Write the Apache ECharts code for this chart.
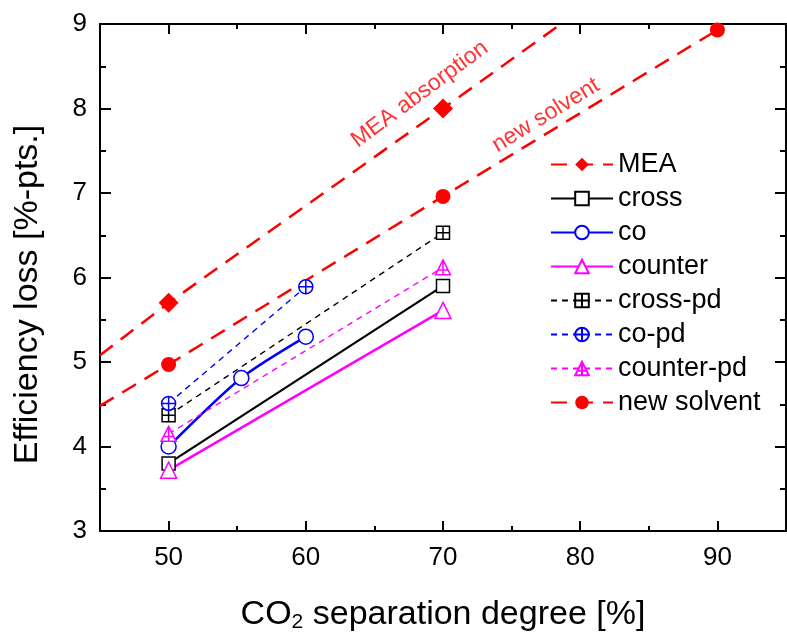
<!DOCTYPE html>
<html>
<head>
<meta charset="utf-8">
<script src="https://cdn.jsdelivr.net/npm/echarts@6/dist/echarts.min.js"></script>
<style>
html,body{margin:0;padding:0;background:#fff;}
#chart{width:787px;height:635px;}
</style>
</head>
<body>
<div id="chart"></div>
<script>
// ---- data ----
const xMajorTicks = [50, 60, 70, 80, 90];
const xMinorTicks = [55, 65, 75, 85];
const meaPoints = [[50, 5.70], [70, 8.00]];
const meaLineEnds = [[45, 5.08], [78.6, 9.0]];
const newSolventPoints = [[50, 4.97], [70, 6.96], [90, 8.93]];
const newSolventLineStart = [45, 4.48];
const cross = [[50, 3.80], [70, 5.90]];
const co = [[50, 4.00], [55.3, 4.81], [60, 5.30]];
const counter = [[50, 3.72], [70, 5.61]];
const crossPd = [[50, 4.37], [70, 6.53]];
const coPd = [[50, 4.51], [60, 5.89]];
const counterPd = [[50, 4.15], [70, 6.12]];
const annotationTexts = ['MEA absorption', 'new solvent'];
const annotationPos = [[68.3, 8.17], [77.5, 7.92]];
const annotationAngles = [36.5, 31.5];
const legendNames = ['MEA', 'cross', 'co', 'counter', 'cross-pd', 'co-pd', 'counter-pd', 'new solvent'];

const FONT = '"Liberation Sans", Arial, sans-serif';
const RED = '#ff0000', BLUE = '#0000ff', MAG = '#ff00ff', BLK = '#000000';
const boxPlus = 'path://M0,0H10V10H0Z M5,0V10 M0,5H10';
const circlePlus = 'path://M5,0A5,5,0,1,1,5,10A5,5,0,1,1,5,0Z M5,0V10 M0,5H10';
const triPlus = 'path://M5,0L10,10L0,10Z M5,0V10 M1.7,6.7H8.3';

function withEnds(start, pts, end) {
  const d = [];
  if (start) d.push({ value: start, symbol: 'none' });
  pts.forEach(p => d.push(p));
  if (end) d.push({ value: end, symbol: 'none' });
  return d;
}

function openSeries(name, data, color, symbol, size, lineType, lineWidth, smooth) {
  return {
    name: name, type: 'line', data: data, symbol: symbol, symbolSize: size,
    smooth: smooth || false,
    lineStyle: { color: color, width: lineWidth, type: lineType },
    itemStyle: { color: '#ffffff', borderColor: color, borderWidth: 1.5 },
    z: 3
  };
}

const chart = echarts.init(document.getElementById('chart'), null, { renderer: 'canvas' });

const axisLine = { show: true, onZero: false, lineStyle: { color: BLK, width: 2 } };

const option = {
  backgroundColor: '#ffffff',
  animation: false,
  grid: { left: 100, right: 1, top: 24, bottom: 104, outerBoundsMode: 'none' },
  legend: {
    orient: 'vertical', left: 550, top: 151, padding: 0,
    itemWidth: 62, itemHeight: 17, itemGap: 7,
    textStyle: { fontFamily: FONT, fontSize: 27, color: BLK, lineHeight: 24 },
    data: legendNames
  },
  xAxis: [
    {
      type: 'value', position: 'bottom', min: 45, max: 95,
      axisLine: axisLine,
      axisTick: { show: true, inside: true, length: 10, customValues: xMajorTicks, lineStyle: { color: BLK, width: 2 } },
      axisLabel: { show: true, customValues: xMajorTicks, margin: 14, fontFamily: FONT, fontSize: 26, color: BLK },
      splitLine: { show: false },
      name: '{a|CO}{s|2}{a| separation degree [%]}',
      nameLocation: 'middle', nameGap: 50,
      nameTextStyle: {
        color: BLK, fontFamily: FONT,
        rich: {
          a: { fontFamily: FONT, fontSize: 34, lineHeight: 36, color: BLK, verticalAlign: 'middle' },
          s: { fontFamily: FONT, fontSize: 21, lineHeight: 22, color: BLK, verticalAlign: 'bottom', padding: [36, 0, 0, 0] }
        }
      }
    },
    {
      type: 'value', position: 'bottom', min: 45, max: 95,
      axisLine: { show: false },
      axisTick: { show: true, inside: true, length: 5, customValues: xMinorTicks, lineStyle: { color: BLK, width: 2 } },
      axisLabel: { show: false }, splitLine: { show: false }
    },
    {
      type: 'value', position: 'top', min: 45, max: 95,
      axisLine: axisLine,
      axisTick: { show: true, inside: true, length: 10, customValues: xMajorTicks, lineStyle: { color: BLK, width: 2 } },
      axisLabel: { show: false }, splitLine: { show: false }
    },
    {
      type: 'value', position: 'top', min: 45, max: 95,
      axisLine: { show: false },
      axisTick: { show: true, inside: true, length: 5, customValues: xMinorTicks, lineStyle: { color: BLK, width: 2 } },
      axisLabel: { show: false }, splitLine: { show: false }
    }
  ],
  yAxis: [
    {
      type: 'value', position: 'left', min: 3, max: 9, interval: 1,
      axisLine: axisLine,
      axisTick: { show: true, inside: true, length: 11, lineStyle: { color: BLK, width: 2 } },
      minorTick: { show: true, splitNumber: 2, length: 6, lineStyle: { color: BLK, width: 2 } },
      axisLabel: { show: true, margin: 13, fontFamily: FONT, fontSize: 26, color: BLK },
      splitLine: { show: false }, minorSplitLine: { show: false },
      name: 'Efficiency loss [%-pts.]', nameLocation: 'middle', nameGap: 55, nameRotate: 90,
      nameTextStyle: { fontFamily: FONT, fontSize: 34, color: BLK, padding: [0, 34, 0, 0] }
    },
    {
      type: 'value', position: 'right', min: 3, max: 9, interval: 1,
      axisLine: axisLine,
      axisTick: { show: true, inside: true, length: 11, lineStyle: { color: BLK, width: 2 } },
      minorTick: { show: true, splitNumber: 2, length: 6, lineStyle: { color: BLK, width: 2 } },
      axisLabel: { show: false },
      splitLine: { show: false }, minorSplitLine: { show: false }
    }
  ],
  series: [
    {
      name: 'MEA', type: 'line', data: withEnds(meaLineEnds[0], meaPoints, meaLineEnds[1]),
      symbol: 'diamond', symbolSize: 20,
      lineStyle: { color: RED, width: 2.5, type: [16, 10] },
      itemStyle: { color: RED }, z: 2
    },
    openSeries('cross', cross, BLK, 'rect', 13, 'solid', 2.2),
    openSeries('co', co, BLUE, 'circle', 15, 'solid', 2.5, 0.25),
    openSeries('counter', counter, MAG, 'triangle', 16, 'solid', 2.5),
    openSeries('cross-pd', crossPd, BLK, boxPlus, 13, [6, 5], 1.4),
    openSeries('co-pd', coPd, BLUE, circlePlus, 14, [6, 5], 1.4),
    openSeries('counter-pd', counterPd, MAG, triPlus, 15, [6, 5], 1.4),
    {
      name: 'new solvent', type: 'line', data: withEnds(newSolventLineStart, newSolventPoints, null),
      symbol: 'circle', symbolSize: 15,
      lineStyle: { color: RED, width: 2.5, type: [16, 10] },
      itemStyle: { color: RED }, z: 2
    },
    {
      name: 'annotations', type: 'scatter', symbolSize: 0, silent: true,
      itemStyle: { color: RED },
      data: annotationPos.map((p, i) => ({
        value: p,
        label: {
          show: true, position: 'inside', formatter: annotationTexts[i], rotate: annotationAngles[i],
          fontFamily: FONT, fontSize: 23, color: RED, align: 'center', verticalAlign: 'middle',
          textBorderWidth: 0, textBorderColor: 'transparent'
        }
      }))
    }
  ]
};
chart.setOption(option);
</script>
</body>
</html>
